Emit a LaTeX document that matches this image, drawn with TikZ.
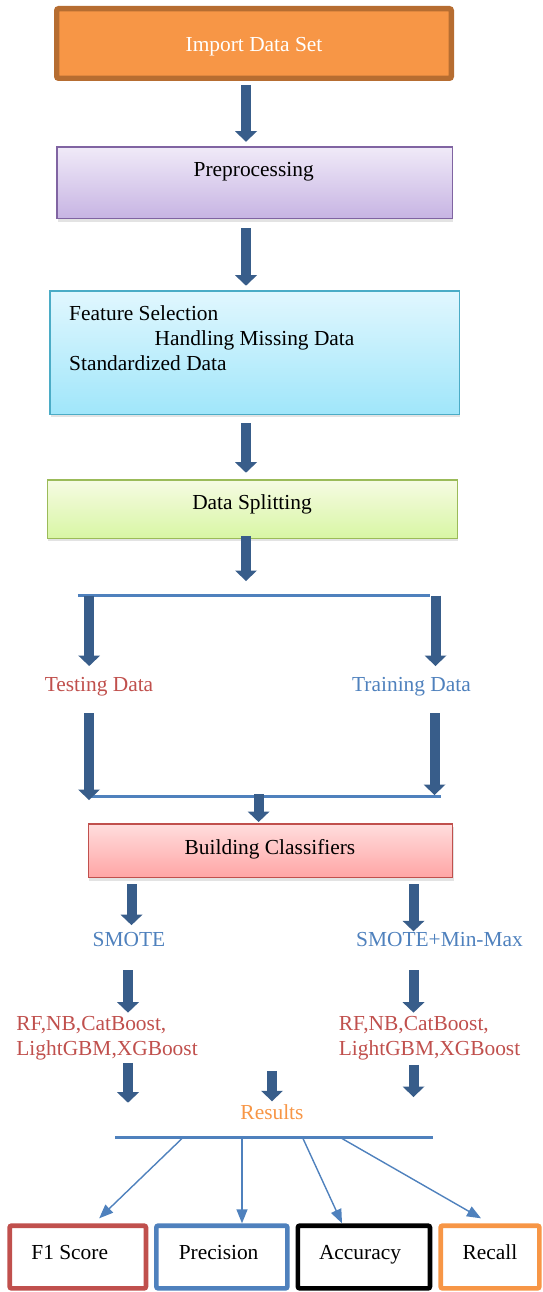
\documentclass[tikz,border=0pt]{standalone}
\usepackage{fontspec}
\setmainfont{Liberation Serif}
\usetikzlibrary{arrows.meta,shadows,calc}
\definecolor{arrowc}{HTML}{385D8A}
\definecolor{blueone}{HTML}{4F81BD}
\definecolor{redone}{HTML}{C0504D}
\definecolor{orangeone}{HTML}{F79646}
\definecolor{impborder}{HTML}{B66D31}
\definecolor{purpleborder}{HTML}{8064A2}
\definecolor{purpletop}{HTML}{F0EAF8}
\definecolor{purplebot}{HTML}{C7B4E3}
\definecolor{cyanborder}{HTML}{4BACC6}
\definecolor{cyantop}{HTML}{E1F7FE}
\definecolor{cyanbot}{HTML}{A0E6FA}
\definecolor{greenborder}{HTML}{9BBB59}
\definecolor{greentop}{HTML}{F6FBE3}
\definecolor{greenbot}{HTML}{D8F6A4}
\definecolor{pinktop}{HTML}{FFDDDD}
\definecolor{pinkbot}{HTML}{FFA5A5}
\begin{document}
\begin{tikzpicture}[x=1pt,y=-1pt,
  every node/.style={font=\fontsize{21.4}{25}\selectfont},
  txt/.style={inner sep=0pt, anchor=base},
  txtw/.style={inner sep=0pt, anchor=base west},
  boxbase/.style={rectangle, draw, inner sep=0pt},
  shad/.style={drop shadow={shadow xshift=1pt,shadow yshift=-3pt,opacity=0.22}},
  impbox/.style={boxbase, fill=orangeone, draw=impborder, line width=5.4pt, rounded corners=2pt,
    minimum width=394.6pt, minimum height=69.6pt},
  gradbox/.style={boxbase, shad, line width=1.5pt},
  resbox/.style={boxbase, fill=white, line width=4.7pt, rounded corners=2pt, minimum height=62.7pt},
  blk/.style={draw=arrowc, line width=10pt, -{Triangle[length=10.5pt,width=22pt,line width=0pt]}},
  thinarr/.style={draw=blueone, line width=1.4pt, -{Triangle[length=14pt,width=11pt]}},
  hline/.style={draw=blueone, line width=3.2pt},
]
\useasboundingbox (0,0) rectangle (542,1292);

% ---- boxes ----
\node[impbox] (import) at (254,43.5) {};
\node[txt, text=white] (importT) at (254,52) {Import Data Set};

\node[gradbox, draw=purpleborder, top color=purpletop, bottom color=purplebot,
  minimum width=395.5pt, minimum height=71.8pt] (pre) at (254.5,182.7) {};
\node[txt] (preT) at (253.7,176.7) {Preprocessing};

\node[gradbox, draw=cyanborder, top color=cyantop, bottom color=cyanbot,
  minimum width=409.5pt, minimum height=123.5pt] (feat) at (254.5,352.5) {};
\node[txtw] (fs1) at (69,320) {Feature Selection};
\node[txtw] (fs2) at (154.5,345) {Handling Missing Data};
\node[txtw] (fs3) at (69,370.5) {Standardized Data};

\node[gradbox, draw=greenborder, top color=greentop, bottom color=greenbot,
  minimum width=409.8pt, minimum height=58.5pt] (split) at (252.35,509) {};
\node[txt] (splitT) at (252,509.3) {Data Splitting};

% ---- main arrows ----
\draw[blk, shorten <=4pt, shorten >=4.3pt] ([xshift=-8pt]import.south) -- ([xshift=-8.5pt]pre.north);
\draw[blk, shorten <=8.7pt, shorten >=4.3pt] ([xshift=-8.5pt]pre.south) -- ([xshift=-8.5pt]feat.north);
\draw[blk, shorten <=8.3pt, shorten >=6.3pt] ([xshift=-8.5pt]feat.south) -- ([xshift=-6.35pt]split.north);

% ---- split ----
\coordinate (sl) at (77.8,595.7);
\coordinate (sr) at (430.3,595.7);
\coordinate (sc) at (246,595.7);
\coordinate (sla) at (89.2,595.7);
\coordinate (sra) at (435.5,595.7);
\draw[blk, shorten >=14.7pt] ([xshift=-6.35pt,yshift=3pt]split.south) -- (sc);
\draw[hline] (sl) -- (sr);

\node[txt, text=redone] (testing) at (99,691.5) {Testing Data};
\node[txt, text=blueone] (training) at (411.5,691.5) {Training Data};

\coordinate (tna) at (0,666);
\coordinate (tsa) at (0,713);
\draw[blk] (sla) -- (sla |- tna);
\draw[blk] (sra) -- (sra |- tna);

\coordinate (bl) at (89,796.7);
\coordinate (br) at (440.7,796.7);
\coordinate (bla) at (89,796.7);
\coordinate (bra) at (434.5,796.7);
\coordinate (bc) at (258.6,796.7);
\draw[hline] (bl) -- (br);
\draw[blk, shorten >=-3.3pt] (bla |- tsa) -- (bla);
\draw[blk, shorten <=-3pt, shorten >=1.7pt] ([yshift=-3pt]bra |- tsa) -- (bra);

\node[gradbox, draw=redone, top color=pinktop, bottom color=pinkbot,
  minimum width=364.1pt, minimum height=53.5pt] (build) at (270.5,850.8) {};
\node[txt] (buildT) at (270,854) {Building Classifiers};
\draw[blk, shorten <=-2.4pt, shorten >=1.3pt] (bc) -- (bc |- build.north);

% ---- classifier branches ----
\coordinate (colLa) at (131.5,0);
\coordinate (colL) at (128,0);
\coordinate (colR) at (413.5,0);

\node[txt, text=blueone] (smote) at (129,946.7) {SMOTE};
\node[txt, text=blueone] (smm) at (439.5,946.7) {SMOTE+Min-Max};

\draw[blk, shorten <=5.7pt, shorten >=7.2pt] (build.south -| colLa) -- (smote.north -| colLa);
\draw[blk, shorten <=5.7pt, shorten >=1pt] (build.south -| colR) -- (smm.north -| colR);

\node[txtw, text=redone] (rfL1) at (16.2,1030) {RF,NB,CatBoost,};
\node[txtw, text=redone] (rfL2) at (16.2,1055) {LightGBM,XGBoost};
\node[txtw, text=redone] (rfR1) at (338.7,1030) {RF,NB,CatBoost,};
\node[txtw, text=redone] (rfR2) at (338.7,1055) {LightGBM,XGBoost};

\draw[blk, shorten <=23pt, shorten >=3pt] (smote.south -| colL) -- (rfL1.north -| colL);
\draw[blk, shorten <=23pt, shorten >=3pt] (smm.south -| colR) -- (rfR1.north -| colR);

\node[txt, text=orangeone] (results) at (272,1119.3) {Results};
\coordinate (rl) at (115,1137.7);
\coordinate (rr) at (432.8,1137.7);
\draw[hline, line width=2.8pt] (rl) -- (rr);

\draw[blk, shorten <=3pt, shorten >=35pt] (rfL2.south -| colL) -- (rl -| colL);
\draw[blk, shorten <=11pt, shorten >=3pt] (rfL2.south -| results.north) -- (results.north);
\draw[blk, shorten <=5pt, shorten >=40.7pt] (rfR2.south -| colR) -- (rr -| colR);

% ---- metric boxes ----
\node[resbox, draw=redone, minimum width=136.3pt] (f1) at (77.8,1257) {};
\node[resbox, draw=blueone, minimum width=131pt] (prec) at (221.85,1257) {};
\node[resbox, draw=black, minimum width=132.1pt] (acc) at (363.9,1257) {};
\node[resbox, draw=orangeone, minimum width=98.7pt] (rec) at (490,1257) {};
\node[txt] (f1T) at (69.7,1259.5) {F1 Score};
\node[txt] (precT) at (218.6,1259.5) {Precision};
\node[txt] (accT) at (360,1259.5) {Accuracy};
\node[txt] (recT) at (490,1259.5) {Recall};

\coordinate (t1) at (182,1138.5);
\coordinate (t2) at (242,1138.5);
\coordinate (t3) at (303,1138.5);
\coordinate (t4) at (342,1138.5);
\draw[thinarr] (t1) -- ([xshift=21.4pt,yshift=5pt]f1.north);
\draw[thinarr] (t2) -- ([xshift=20.15pt]prec.north);
\draw[thinarr] (t3) -- ([xshift=-21.9pt]acc.north);
\draw[thinarr] (t4) -- ([xshift=-9pt,yshift=5pt]rec.north);
\end{tikzpicture}
\end{document}
